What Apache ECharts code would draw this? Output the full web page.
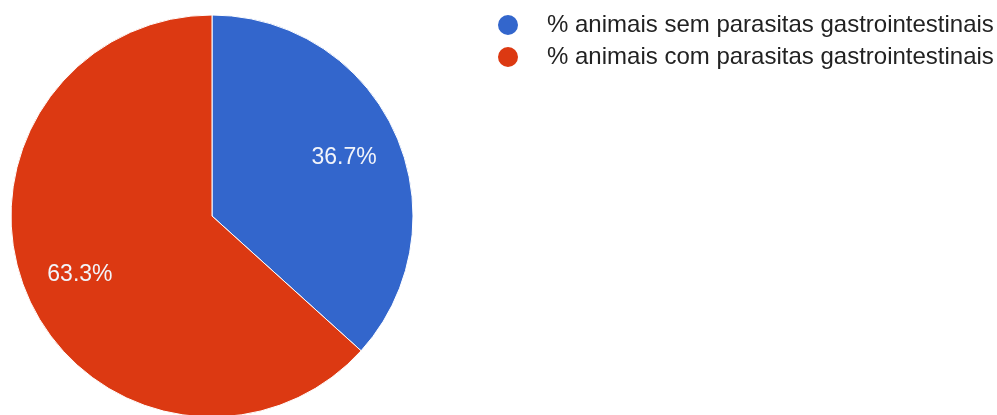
<!DOCTYPE html>
<html>
<head>
<meta charset="utf-8">
<script src="https://cdn.jsdelivr.net/npm/echarts@6/dist/echarts.min.js"></script>
<style>
  html, body { margin: 0; padding: 0; background: #fff; }
  #chart { width: 997px; height: 415px; }
</style>
</head>
<body>
<div id="chart"></div>
<script>
// Share of animals with and without gastrointestinal parasites
const categories = [
  '% animais sem parasitas gastrointestinais',
  '% animais com parasitas gastrointestinais'
];
const values = [36.7, 63.3];
const colors = ['#3366cc', '#dc3912'];

const pieData = categories.map((name, i) => ({
  name: name,
  value: values[i],
  itemStyle: { color: colors[i] }
}));

const chart = echarts.init(document.getElementById('chart'), null, { renderer: 'canvas' });

chart.setOption({
  animation: false,
  legend: {
    orient: 'vertical',
    left: 491,
    top: 8,
    icon: 'circle',
    itemWidth: 22,
    itemHeight: 22,
    itemGap: 8,
    selectedMode: false,
    data: categories,
    textStyle: {
      fontFamily: 'Liberation Sans, Arial, sans-serif',
      fontSize: 24,
      color: '#222222',
      padding: [0, 0, 0, 23]
    }
  },
  series: [
    {
      // the pie itself
      type: 'pie',
      center: [212, 216],
      radius: [0, 201],
      startAngle: 90,
      clockwise: true,
      avoidLabelOverlap: false,
      label: { show: false },
      labelLine: { show: false },
      itemStyle: { borderColor: '#ffffff', borderWidth: 1 },
      emphasis: { disabled: true },
      data: pieData
    },
    {
      // transparent ring carrying the percentage labels further out
      type: 'pie',
      silent: true,
      center: [212, 216],
      radius: [82, 201],
      startAngle: 90,
      clockwise: true,
      avoidLabelOverlap: false,
      itemStyle: { color: 'transparent', borderWidth: 0 },
      label: {
        show: true,
        position: 'inside',
        formatter: p => p.value.toFixed(1) + '%',
        fontFamily: 'Liberation Sans, Arial, sans-serif',
        fontSize: 23,
        color: '#f2f4fa'
      },
      labelLine: { show: false },
      emphasis: { disabled: true },
      data: values.map((v, i) => ({ name: categories[i], value: v }))
    }
  ]
});
</script>
</body>
</html>
